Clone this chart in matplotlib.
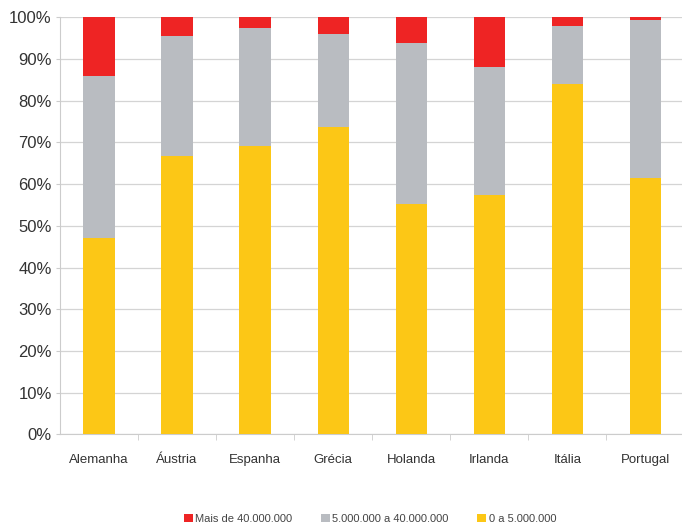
import matplotlib
matplotlib.use("Agg")
import matplotlib.pyplot as plt
from matplotlib.ticker import FixedLocator, PercentFormatter

countries = ["Alemanha", "Áustria", "Espanha", "Grécia", "Holanda", "Irlanda", "Itália", "Portugal"]
small = [47.0, 66.8, 69.2, 73.8, 55.3, 57.4, 84.1, 61.4]          # 0 a 5.000.000
medium = [39.0, 28.6, 28.2, 22.2, 38.5, 30.8, 13.8, 37.9]         # 5.000.000 a 40.000.000
large = [14.0, 4.6, 2.6, 4.0, 6.2, 11.8, 2.1, 0.7]                # Mais de 40.000.000

RED = "#ee2424"
GREY = "#b9bcc1"
YELLOW = "#fcc716"
TEXT = "#333333"

plt.rcParams["font.family"] = ["Liberation Sans", "DejaVu Sans"]

fig = plt.figure(figsize=(6.82, 5.26), dpi=100)
ax = fig.add_axes([60 / 682, 91.7 / 526, 622 / 682, 417 / 526])

x = range(len(countries))
w = 0.4
bottom2 = [a + b for a, b in zip(small, medium)]
ax.bar(x, small, width=w, color=YELLOW, label="0 a 5.000.000", zorder=3)
ax.bar(x, medium, width=w, bottom=small, color=GREY, label="5.000.000 a 40.000.000", zorder=3)
ax.bar(x, large, width=w, bottom=bottom2, color=RED, label="Mais de 40.000.000", zorder=3)

ax.set_xlim(-0.5, 7.47)
ax.set_ylim(0, 100)
ax.yaxis.set_major_locator(FixedLocator(range(0, 101, 10)))
ax.yaxis.set_major_formatter(PercentFormatter(decimals=0))
ax.grid(axis="y", color="#d4d4d4", linewidth=0.9, zorder=0)
ax.set_xticks(list(x))
ax.set_xticklabels(countries)
ax.set_xticks([i + 0.5 for i in range(7)], minor=True)

for s in ["top", "right"]:
    ax.spines[s].set_visible(False)
ax.spines["left"].set_color("#cccccc")
ax.spines["bottom"].set_color("#cccccc")
ax.tick_params(axis="y", length=3, color="#cccccc", labelsize=12, labelcolor=TEXT, pad=3)
ax.tick_params(axis="x", which="major", length=0, labelsize=9.5, labelcolor=TEXT, pad=14)
ax.tick_params(axis="x", which="minor", length=4, color="#cccccc")

handles, labels = ax.get_legend_handles_labels()
fig.legend(handles[::-1], labels[::-1], loc="center", bbox_to_anchor=(370 / 682, 1 - 519 / 526),
           ncol=3, frameon=False, fontsize=8, handlelength=0.8, handleheight=0.8,
           handletextpad=0.2, columnspacing=2.6, labelcolor="#444444")

fig.savefig("out.png", dpi=100)
